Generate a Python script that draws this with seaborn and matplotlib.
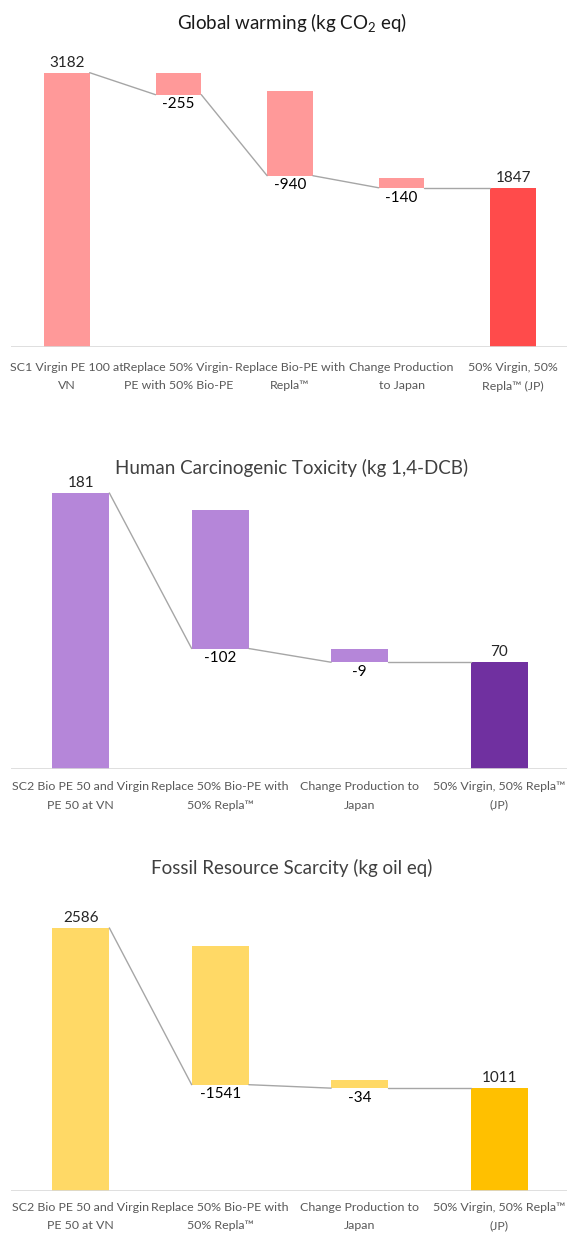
import numpy as np
import matplotlib
matplotlib.use("Agg")
import matplotlib.pyplot as plt
import seaborn as sns

# ---------------- data ----------------
gw_labels = ["SC1 Virgin PE 100 at\nVN", "Replace 50% Virgin-\nPE with 50% Bio-PE",
             "Replace Bio-PE with\nRepla\u2122", "Change Production\nto Japan",
             "50% Virgin, 50%\nRepla\u2122 (JP)"]
gw_steps = [3182, -255, -940, -140, 1847]
gw_bar_top = [3182, 3182, 2970, 1960, 1847]   # visible top edge of each bar

ct_labels = ["SC2 Bio PE 50 and Virgin\nPE 50 at VN", "Replace 50% Bio-PE with\n50% Repla\u2122",
             "Change Production to\nJapan", "50% Virgin, 50% Repla\u2122\n(JP)"]
ct_steps = [181, -102, -9, 70]
ct_bar_top = [181, 170, 79, 70]

fr_labels = ["SC2 Bio PE 50 and Virgin\nPE 50 at VN", "Replace 50% Bio-PE with\n50% Repla\u2122",
             "Change Production to\nJapan", "50% Virgin, 50% Repla\u2122\n(JP)"]
fr_steps = [2586, -1541, -34, 1011]
fr_bar_top = [2586, 2410, 1090, 1011]

titles = ["Global warming (kg CO$_2$ eq)", "Human Carcinogenic Toxicity (kg 1,4-DCB)",
          "Fossil Resource Scarcity (kg oil eq)"]

# ---------------- style ----------------
sns.set_theme(style="white")
plt.rcParams["font.family"] = ["Lato", "DejaVu Sans"]
plt.rcParams["mathtext.fontset"] = "custom"
plt.rcParams["mathtext.rm"] = "Lato"
plt.rcParams["mathtext.it"] = "Lato"

W, H = 567, 1234
fig = plt.figure(figsize=(W / 100, H / 100), dpi=100)

panels = [
    dict(labels=gw_labels, steps=gw_steps, tops=gw_bar_top, light="#FF9999", dark="#FF4B4B",
         base=347, upp=11.6, ymax=3500, title_y=23, title_col="#1a1a1a", pad=11),
    dict(labels=ct_labels, steps=ct_steps, tops=ct_bar_top, light="#B586D9", dark="#7030A0",
         base=769, upp=1 / 1.525, ymax=195, title_y=468, title_col="#404040", pad=9),
    dict(labels=fr_labels, steps=fr_steps, tops=fr_bar_top, light="#FFD966", dark="#FFC000",
         base=1191, upp=9.83, ymax=2900, title_y=868, title_col="#404040", pad=8),
]

width = 0.41
for k, p in enumerate(panels):
    n = len(p["steps"])
    left_px, right_px = 11, 569
    h_px = p["ymax"] / p["upp"]
    ax = fig.add_axes([left_px / W, (H - p["base"]) / H, (right_px - left_px) / W, h_px / H])

    steps = p["steps"]
    cum = np.cumsum(steps[:-1]).tolist() + [steps[-1]]
    bottoms = [0] + cum[1:-1] + [0]
    tops = p["tops"]
    colors = [p["light"]] * (n - 1) + [p["dark"]]
    cats = [f"c{i}" for i in range(n)]

    sns.barplot(x=cats, y=tops, hue=cats, palette=colors, legend=False,
                width=width, saturation=1, edgecolor="none", ax=ax, zorder=2)
    sns.barplot(x=cats, y=bottoms, color="white", width=width, saturation=1,
                edgecolor="none", ax=ax, zorder=3)

    # connector levels
    levels = [steps[0]] + cum[1:-1] + [steps[-1]]
    for i in range(n - 1):
        ax.plot([i + width / 2, i + 1 - width / 2], [levels[i], levels[i + 1]],
                color="#A6A6A6", lw=1.0, zorder=4)

    ax.axhline(0, color="#D9D9D9", lw=1.2, zorder=5)

    for i, v in enumerate(steps):
        if v >= 0:
            ax.annotate(f"{v}", (i, tops[i]), xytext=(0, 2), textcoords="offset points",
                        ha="center", va="bottom", fontsize=11, color="#262626", zorder=6)
        else:
            ax.annotate(f"{v}", (i, bottoms[i]), xytext=(0, -2), textcoords="offset points",
                        ha="center", va="top", fontsize=11, color="#000000", zorder=6)

    ax.set_xlim(-0.5, n - 0.5)
    ax.set_ylim(0, p["ymax"])
    ax.set_xticks(range(n))
    ax.set_xticklabels(p["labels"], fontsize=8.9, color="#595959", linespacing=1.8)
    ax.tick_params(axis="x", length=0, pad=p["pad"])
    ax.set_yticks([])
    ax.set_xlabel("")
    ax.set_ylabel("")
    for s in ax.spines.values():
        s.set_visible(False)

    fig.text(0.5 + 8 / W, 1 - p["title_y"] / H, titles[k], ha="center", va="center",
             fontsize=13.5, color=p["title_col"])

fig.savefig("out.png", dpi=100)
